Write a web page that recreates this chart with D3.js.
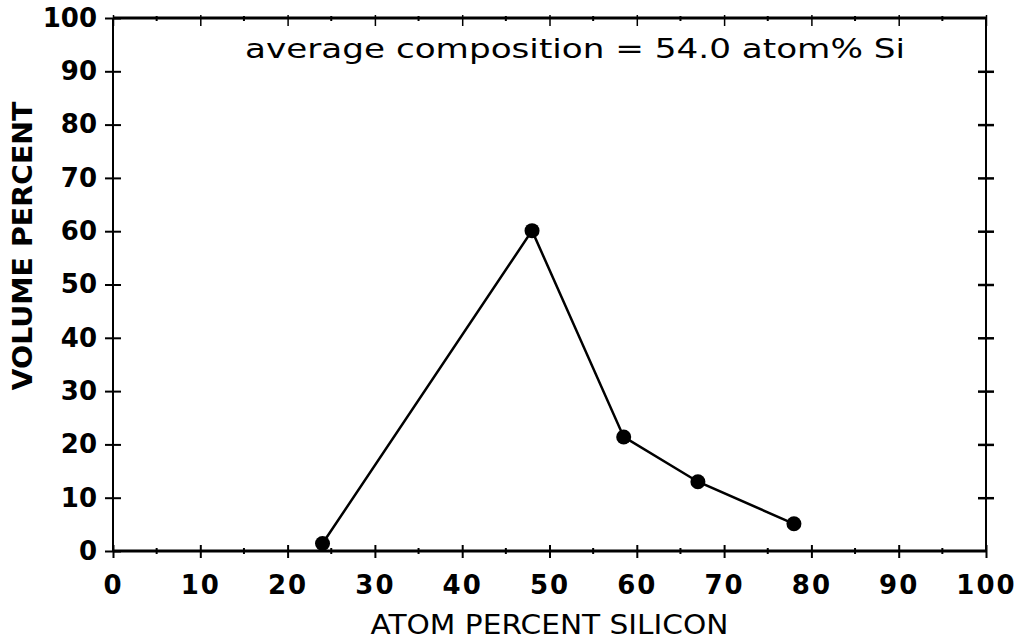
<!DOCTYPE html>
<html>
<head>
<meta charset="utf-8">
<script src="https://cdn.jsdelivr.net/npm/d3@7"></script>
<style>
  html, body { margin: 0; padding: 0; background: #fff; }
  svg { display: block; }
  text { font-family: "DejaVu Sans", sans-serif; fill: #000; }
</style>
</head>
<body>
<svg id="chart" width="1016" height="641"></svg>
<script>
// ---- data ----
const atomPercentSi = [24, 48, 58.5, 67, 78];
const volumePercent = [1.4, 60.1, 21.4, 13.0, 5.1];
const xTicks = [0, 10, 20, 30, 40, 50, 60, 70, 80, 90, 100];
const yTicks = [0, 10, 20, 30, 40, 50, 60, 70, 80, 90, 100];
const xMinorTicks = [5, 15, 25, 35, 45, 55, 65, 75, 85, 95];
const xTitle = "ATOM PERCENT SILICON";
const yTitle = "VOLUME PERCENT";
const annotation = "average composition = 54.0 atom% Si";

// ---- layout ----
const pL = 113, pR = 986, pT = 18, pB = 551;
const svg = d3.select("#chart");

const x = d3.scaleLinear().domain([0, 100]).range([pL, pR]);
const y = d3.scaleLinear().domain([0, 100]).range([pB, pT]);

// frame
const frame = svg.append("g").attr("stroke", "#000").attr("fill", "none");
frame.append("line").attr("x1", pL).attr("x2", pR).attr("y1", pT).attr("y2", pT).attr("stroke-width", 3);
frame.append("line").attr("x1", pL).attr("x2", pR).attr("y1", pB).attr("y2", pB).attr("stroke-width", 3);
frame.append("line").attr("x1", pL).attr("x2", pL).attr("y1", pT).attr("y2", pB).attr("stroke-width", 2);
frame.append("line").attr("x1", pR).attr("x2", pR).attr("y1", pT).attr("y2", pB).attr("stroke-width", 2);

// bottom axis
const xAxis = d3.axisBottom(x).tickValues(xTicks).tickSizeInner(7).tickSizeOuter(0).tickPadding(18).tickFormat(d3.format("d"));
const gx = svg.append("g").attr("transform", `translate(0,${pB})`).call(xAxis);
gx.select(".domain").remove();
gx.selectAll(".tick line").attr("y1", -6).attr("stroke", "#000").attr("stroke-width", 2);
gx.selectAll(".tick text").attr("font-size", 26).attr("font-weight", "bold").attr("letter-spacing", 2).attr("fill", "#000");

svg.append("g").selectAll("line").data(xMinorTicks).join("line")
  .attr("x1", d => x(d)).attr("x2", d => x(d))
  .attr("y1", pB - 3).attr("y2", pB + 3)
  .attr("stroke", "#000").attr("stroke-width", 2);

// top axis
const xAxisTop = d3.axisTop(x).tickValues(xTicks).tickSizeInner(3).tickSizeOuter(0).tickFormat("");
const gxt = svg.append("g").attr("transform", `translate(0,${pT})`).call(xAxisTop);
gxt.select(".domain").remove();
gxt.selectAll(".tick line").attr("y1", 8).attr("stroke", "#000").attr("stroke-width", 1.5);
svg.append("g").selectAll("line").data(xMinorTicks).join("line")
  .attr("x1", d => x(d)).attr("x2", d => x(d))
  .attr("y1", pT - 2).attr("y2", pT + 3)
  .attr("stroke", "#000").attr("stroke-width", 2);

// left axis
const yAxis = d3.axisLeft(y).tickValues(yTicks).tickSizeInner(8).tickSizeOuter(0).tickPadding(8).tickFormat(d3.format("d"));
const gy = svg.append("g").attr("transform", `translate(${pL},0)`).call(yAxis);
gy.select(".domain").remove();
gy.selectAll(".tick line").attr("x1", 8).attr("stroke", "#000").attr("stroke-width", 2);
gy.selectAll(".tick text").attr("font-size", 26).attr("font-weight", "bold").attr("fill", "#000");

// right axis
const yAxisR = d3.axisRight(y).tickValues(yTicks.filter(d => d > 0 && d < 100)).tickSizeInner(8).tickSizeOuter(0).tickFormat("");
const gyr = svg.append("g").attr("transform", `translate(${pR},0)`).call(yAxisR);
gyr.select(".domain").remove();
gyr.selectAll(".tick line").attr("x1", -8).attr("stroke", "#000").attr("stroke-width", 2.5);

// titles
svg.append("text").attr("x", (pL + pR) / 2).attr("y", 634)
  .attr("text-anchor", "middle").attr("font-size", 27)
  .attr("textLength", 358).attr("lengthAdjust", "spacingAndGlyphs")
  .text(xTitle);
svg.append("text").attr("transform", `translate(32,246) rotate(-90)`)
  .attr("text-anchor", "middle").attr("font-size", 26).attr("font-weight", "bold")
  .attr("textLength", 289).attr("lengthAdjust", "spacingAndGlyphs")
  .text(yTitle);

// annotation
svg.append("text").attr("x", 575).attr("y", 58)
  .attr("text-anchor", "middle").attr("font-size", 27)
  .attr("textLength", 660).attr("lengthAdjust", "spacingAndGlyphs")
  .text(annotation);

// data line and markers
const pts = atomPercentSi.map((d, i) => [d, volumePercent[i]]);
svg.append("path").datum(pts)
  .attr("fill", "none").attr("stroke", "#000").attr("stroke-width", 2.5)
  .attr("d", d3.line().x(d => x(d[0])).y(d => y(d[1])));
svg.append("g").selectAll("circle").data(pts).join("circle")
  .attr("cx", d => x(d[0])).attr("cy", d => y(d[1])).attr("r", 7.5).attr("fill", "#000");
</script>
</body>
</html>
